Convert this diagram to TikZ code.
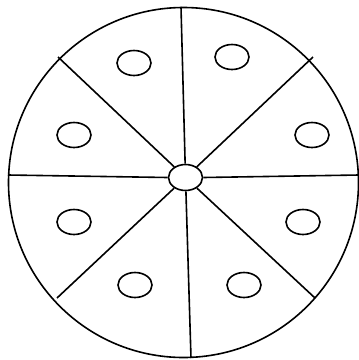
\documentclass[tikz,border=0pt]{standalone}
\usepackage{tikz}
\usetikzlibrary{positioning,arrows,calc,shapes}
\tikzset{
    seed/.style={
        ellipse,
        draw,
        line width=1.6pt,
        fill=white,
        inner sep=0pt,
        minimum width=34pt,
        minimum height=25pt
    },
    hubnode/.style={
        ellipse,
        draw,
        line width=1.6pt,
        fill=white,
        inner sep=0pt,
        minimum width=34pt,
        minimum height=26pt
    },
    spoke/.style={
        line width=1.6pt
    },
    rim/.style={
        line width=1.6pt
    }
}
\begin{document}
\begin{tikzpicture}[x=1pt, y=-1pt]
    \useasboundingbox (0,0) rectangle (359,360);
    \fill[white] (0,0) rectangle (359,360);
    \draw[rim] (183.5,182.5) circle (175);
    % points on the rim
    \coordinate (n) at (181,7);
    \coordinate (s) at (191,358);
    \coordinate (w) at (8,175);
    \coordinate (e) at (359,175);
    \coordinate (nw) at (58,57);
    \coordinate (ne) at (313,57);
    \coordinate (sw) at (57,298);
    \coordinate (se) at (315,298);
    \node[hubnode] (hub) at (185.5,177.5) {};
    \draw[spoke] (hub) -- (n);
    \draw[spoke] (hub) -- (s);
    \draw[spoke] (hub.west) -- (w);
    \draw[spoke] (hub.east) -- (e);
    \draw[spoke] (hub) -- (nw);
    \draw[spoke] (hub) -- (ne);
    \draw[spoke] (hub) -- (sw);
    \draw[spoke] (hub) -- (se);
    % seeds
    \node[seed] (seedA) at (134,63) {};
    \node[seed] (seedB) at (232,57) {};
    \node[seed] (seedC) at (74,135) {};
    \node[seed] (seedD) at (312,135) {};
    \node[seed] (seedE) at (74,222) {};
    \node[seed] (seedF) at (303,222) {};
    \node[seed] (seedG) at (135,285) {};
    \node[seed] (seedH) at (244,285) {};
\end{tikzpicture}
\end{document}
